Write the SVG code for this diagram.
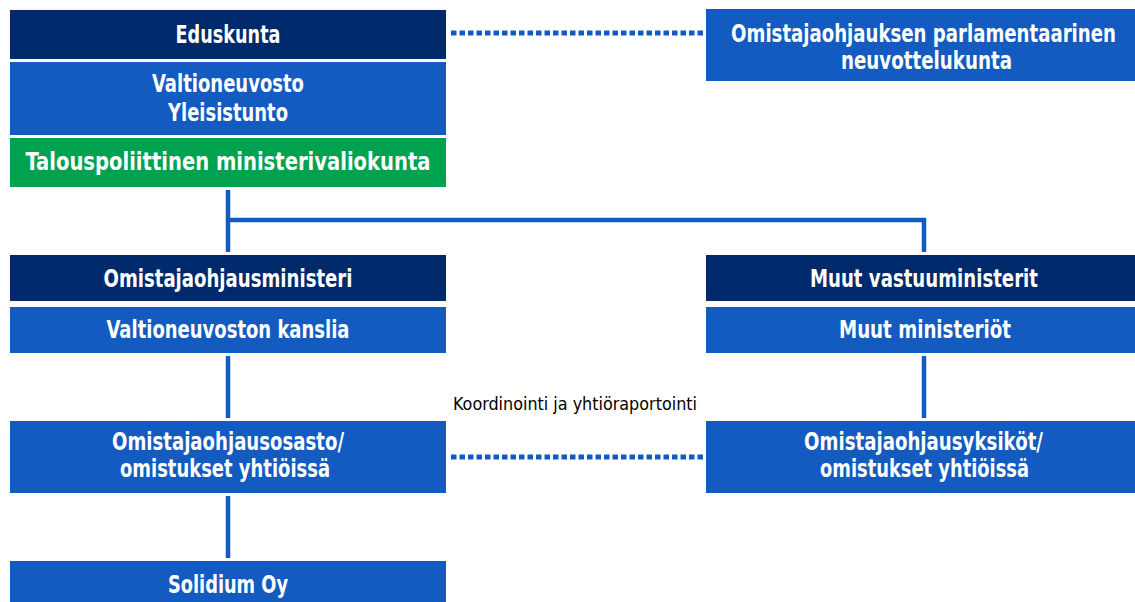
<svg xmlns="http://www.w3.org/2000/svg" width="1135" height="602" viewBox="0 0 1135 602">
<style>
.navy{fill:#002a6b}
.blue{fill:#135bc1}
.green{fill:#00a24f}
.t{font-family:"DejaVu Sans Condensed","DejaVu Sans",sans-serif;font-stretch:condensed;font-weight:bold;font-size:24px;fill:#fff;text-anchor:middle}
.lbl{font-family:"DejaVu Sans Condensed","DejaVu Sans",sans-serif;font-stretch:condensed;font-size:18px;fill:#000;text-anchor:middle}
.solid{stroke:#135bc1;stroke-width:4.5;fill:none}
.dot{stroke:#135bc1;stroke-width:5;fill:none;stroke-dasharray:5.5 3}
</style>
<rect width="1135" height="602" fill="#fff"/>
<g id="connectors">
<path class="solid" d="M228 190V252M228 220H924V252"/>
<path class="solid" d="M228 356V418M924 356V418M228 496V558"/>
<path class="dot" d="M451 33H703"/>
<path class="dot" d="M451 457H705"/>
<text class="lbl" x="575" y="410" textLength="244" lengthAdjust="spacingAndGlyphs">Koordinointi ja yhtiöraportointi</text>
</g>
<g id="eduskunta"><rect class="navy" x="10" y="10" width="436" height="49"/><text class="t" x="228" y="43" textLength="105" lengthAdjust="spacingAndGlyphs">Eduskunta</text></g>
<g id="valtioneuvosto"><rect class="blue" x="10" y="62" width="436" height="73"/><text class="t" x="228" y="92" textLength="152" lengthAdjust="spacingAndGlyphs">Valtioneuvosto</text><text class="t" x="228" y="121" textLength="120" lengthAdjust="spacingAndGlyphs">Yleisistunto</text></g>
<g id="talous"><rect class="green" x="10" y="138" width="436" height="49"/><text class="t" x="228" y="170" textLength="405" lengthAdjust="spacingAndGlyphs">Talouspoliittinen ministerivaliokunta</text></g>
<g id="neuvottelukunta"><rect class="blue" x="706" y="9" width="429" height="72"/><text class="t" transform="translate(923.5 42) scale(0.8 1)" x="0" y="0" textLength="481" lengthAdjust="spacingAndGlyphs">Omistajaohjauksen parlamentaarinen</text><text class="t" x="926.5" y="69" textLength="171" lengthAdjust="spacingAndGlyphs">neuvottelukunta</text></g>
<g id="omistajaohjausministeri"><rect class="navy" x="10" y="255" width="436" height="46"/><text class="t" x="228" y="287" textLength="249" lengthAdjust="spacingAndGlyphs">Omistajaohjausministeri</text></g>
<g id="kanslia"><rect class="blue" x="10" y="307" width="436" height="46"/><text class="t" x="228" y="338" textLength="243" lengthAdjust="spacingAndGlyphs">Valtioneuvoston kanslia</text></g>
<g id="vastuuministerit"><rect class="navy" x="706" y="255" width="429" height="46"/><text class="t" x="924" y="287" textLength="228" lengthAdjust="spacingAndGlyphs">Muut vastuuministerit</text></g>
<g id="ministeriot"><rect class="blue" x="706" y="307" width="429" height="46"/><text class="t" x="925" y="338" textLength="172" lengthAdjust="spacingAndGlyphs">Muut ministeriöt</text></g>
<g id="osasto"><rect class="blue" x="10" y="421" width="436" height="72"/><text class="t" x="228" y="450" textLength="232" lengthAdjust="spacingAndGlyphs">Omistajaohjausosasto/</text><text class="t" x="225" y="477" textLength="210" lengthAdjust="spacingAndGlyphs">omistukset yhtiöissä</text></g>
<g id="yksikot"><rect class="blue" x="706" y="421" width="429" height="72"/><text class="t" x="923.5" y="450" textLength="239" lengthAdjust="spacingAndGlyphs">Omistajaohjausyksiköt/</text><text class="t" x="924.5" y="477" textLength="209" lengthAdjust="spacingAndGlyphs">omistukset yhtiöissä</text></g>
<g id="solidium"><rect class="blue" x="10" y="561" width="436" height="41"/><text class="t" x="228" y="593" textLength="120" lengthAdjust="spacingAndGlyphs">Solidium Oy</text></g>
</svg>
